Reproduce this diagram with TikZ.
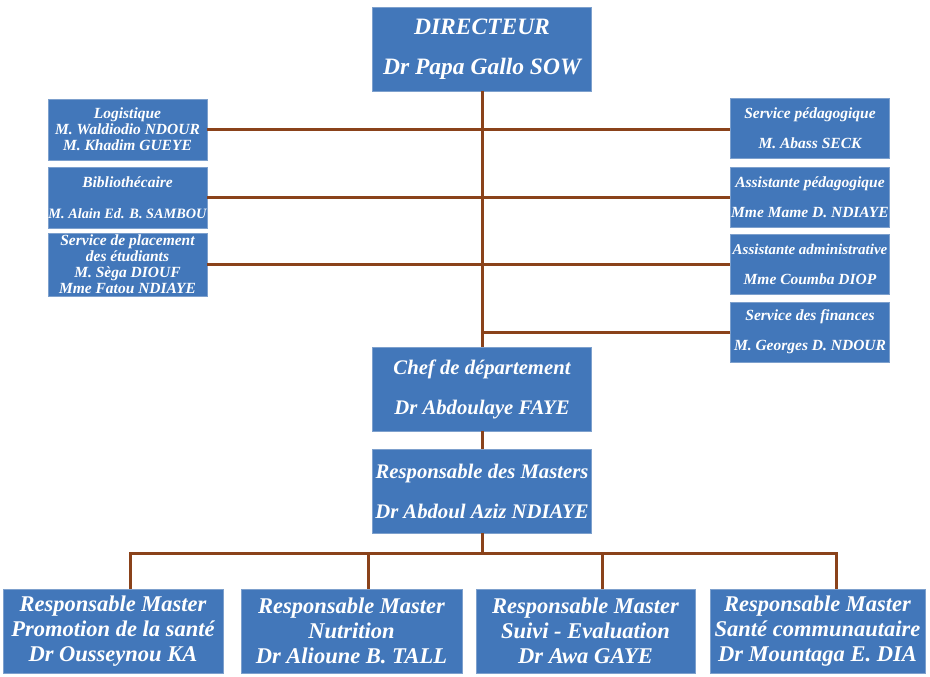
\documentclass[tikz,border=0pt]{standalone}
\usepackage{fontspec}
\setmainfont{Liberation Serif}
\usetikzlibrary{positioning}
\definecolor{steelblue}{RGB}{66, 119, 186}
\definecolor{paleblue}{RGB}{125, 160, 205}
\definecolor{rust}{RGB}{138, 66, 26}

\tikzset{
  unit/.style={draw=paleblue, fill=steelblue, text=white, align=center, inner sep=0pt},
  bigunit/.style={unit, minimum width=219pt, minimum height=84pt,
    font=\fontsize{20.7}{40}\selectfont\bfseries\itshape},
  sideunit/.style={unit, minimum width=159pt, minimum height=61pt,
    font=\fontsize{15.5}{16}\selectfont\bfseries\itshape},
  masterunit/.style={unit, minimum height=84pt,
    font=\fontsize{22.5}{25}\selectfont\bfseries\itshape},
  link/.style={draw=rust, line width=3pt},
}

\begin{document}
\begin{tikzpicture}[x=1pt, y=-1pt]
  % Frame to ensure alignment:
  \useasboundingbox (0, 0) rectangle (930, 677);

  % top
  \node[bigunit, font=\fontsize{23.5}{40}\selectfont\bfseries\itshape] (dir) at (482, 49)
       {DIRECTEUR\\Dr Papa Gallo SOW};
  \node[bigunit] (chef) at (482, 389) {Chef de département\\Dr Abdoulaye FAYE};
  \node[bigunit] (resp) at (482, 491) {Responsable des Masters\\Dr Abdoul Aziz NDIAYE};

  % left services
  \node[sideunit] (logi) at (127.5, 129.5) {Logistique\\M. Waldiodio NDOUR\\M. Khadim GUEYE};
  \node[sideunit] (bibl) at (127.5, 197.5)
       {Bibliothécaire\\[15pt]{\fontsize{14.3}{16}\selectfont M. Alain Ed. B. SAMBOU}};
  \node[sideunit, minimum height=63pt] (plac) at (127.5, 264.5)
       {Service de placement\\des étudiants\\M. Sèga DIOUF\\Mme Fatou NDIAYE};

  % right services
  \node[sideunit, minimum height=60pt] (peda) at (810, 128.5) {Service pédagogique\\[14pt]M. Abass SECK};
  \node[sideunit, minimum height=60pt] (aped) at (810, 197.0) {Assistante pédagogique\\[14pt]Mme Mame D. NDIAYE};
  \node[sideunit, minimum height=60pt] (aadm) at (810, 264.0)
       {{\fontsize{15}{16}\selectfont Assistante administrative}\\[14pt]Mme Coumba DIOP};
  \node[sideunit, minimum height=60pt] (fina) at (810, 332.0) {Service des finances\\[14pt]M. Georges D. NDOUR};

  % masters
  \node[masterunit, minimum width=220pt] (mps) at (113.0, 631) {Responsable Master\\Promotion de la santé\\Dr Ousseynou KA};
  \node[masterunit, minimum width=221pt] (mnu) at (351.5, 631) {Responsable Master\\Nutrition\\Dr Alioune B. TALL};
  \node[masterunit, minimum width=219pt] (mse) at (585.5, 631) {Responsable Master\\Suivi - Evaluation\\Dr Awa GAYE};
  \node[masterunit, minimum width=215pt] (msc) at (817.5, 631) {Responsable Master\\Santé communautaire\\Dr Mountaga E. DIA};

  \coordinate (bar) at (482, 553);

  % links
  \draw[link] (dir.south) -- (chef.north);
  \draw[link] (chef.south) -- (resp.north);
  \draw[link] (logi.east) -- (logi.east -| peda.west);
  \draw[link] (bibl.east) -- (bibl.east -| aped.west);
  \draw[link] (plac.east) -- (plac.east -| aadm.west);
  \draw[link] (fina.west) -- (fina.west -| dir.south);
  \draw[link] (resp.south) -- (bar);
  \draw[link] ([xshift=17pt]mps.north) -- ([xshift=17pt]mps.north |- bar)
              -- ([xshift=19pt]msc.north |- bar) -- ([xshift=19pt]msc.north);
  \draw[link] ([xshift=17pt]mnu.north) -- ([xshift=17pt]mnu.north |- bar);
  \draw[link] ([xshift=17pt]mse.north) -- ([xshift=17pt]mse.north |- bar);
\end{tikzpicture}
\end{document}
